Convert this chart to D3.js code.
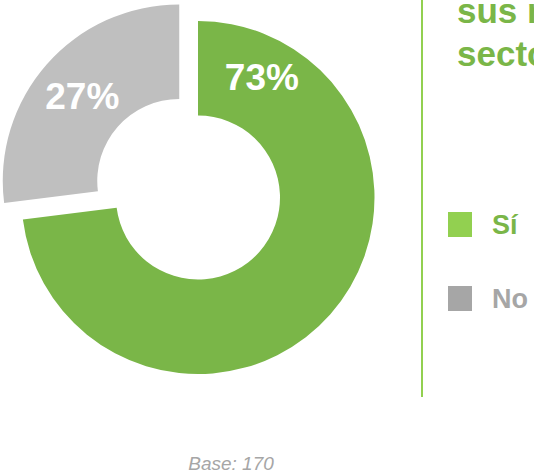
<!DOCTYPE html>
<html><head><meta charset="utf-8">
<script src="https://cdn.jsdelivr.net/npm/d3@7"></script>
<style>html,body{margin:0;padding:0;background:#fff;overflow:hidden}svg{display:block;font-family:"Liberation Sans",Arial,Helvetica,sans-serif}</style>
</head><body>
<script>
const categories = ["Sí", "No"];
const values = [73, 27];
const labels = ["73%", "27%"];
const titleLines = ["sus negocios en el", "sector?"];
const baseNote = "Base: 170";

const W = 534, H = 472;
const svg = d3.select("body").append("svg").attr("width", W).attr("height", H);
const sliceColor = d3.scaleOrdinal().domain(categories).range(["#7AB648", "#BFBFBF"]);
const legendColor = d3.scaleOrdinal().domain(categories).range(["#92D050", "#A6A6A6"]);
const textColor = d3.scaleOrdinal().domain(categories).range(["#7AB648", "#A6A6A6"]);

const cx = 198, cy = 197.5, R = 176.5, r = 82, explode = 25;
const pie = d3.pie().sort(null).value(d => d)(values);
const arc = d3.arc().innerRadius(r).outerRadius(R);
const g = svg.append("g").attr("transform", `translate(${cx},${cy})`);

pie.forEach((p, i) => {
  const mid = (p.startAngle + p.endAngle) / 2;
  const off = i === 1 ? explode : 0;
  const dx = Math.sin(mid) * off, dy = -Math.cos(mid) * off;
  const gg = g.append("g").attr("transform", `translate(${dx},${dy})`);
  gg.append("path").attr("d", arc(p)).attr("fill", sliceColor(categories[i]));
  let lx, ly;
  if (i === 0) {
    const a = p.startAngle + 0.485, rr = 137;
    lx = Math.sin(a) * rr; ly = -Math.cos(a) * rr;
  } else {
    [lx, ly] = arc.centroid(p);
  }
  gg.append("text").attr("x", lx).attr("y", ly).attr("dy", "0.36em")
    .attr("text-anchor", "middle").attr("fill", "#fff")
    .attr("font-weight", "bold").attr("font-size", 37).text(labels[i]);
});

// divider line
svg.append("line").attr("x1", 422).attr("x2", 422).attr("y1", 0).attr("y2", 397)
  .attr("stroke", "#92D050").attr("stroke-width", 2);

// title
titleLines.forEach((t, i) => {
  svg.append("text").attr("x", 457).attr("y", 23 + i * 43)
    .attr("fill", "#7AB648").attr("font-weight", "bold").attr("font-size", 35).text(t);
});

// legend
categories.forEach((c, i) => {
  const y = 212 + i * 74;
  svg.append("rect").attr("x", 448).attr("y", y).attr("width", 24).attr("height", 25)
    .attr("fill", legendColor(c));
  svg.append("text").attr("x", 492).attr("y", y + 22)
    .attr("fill", textColor(c)).attr("font-weight", "bold").attr("font-size", 27).text(c);
});

svg.append("text").attr("x", 231).attr("y", 470).attr("text-anchor", "middle")
  .attr("fill", "#A6A6A6").attr("font-style", "italic").attr("font-size", 19).text(baseNote);
</script>
</body></html>
